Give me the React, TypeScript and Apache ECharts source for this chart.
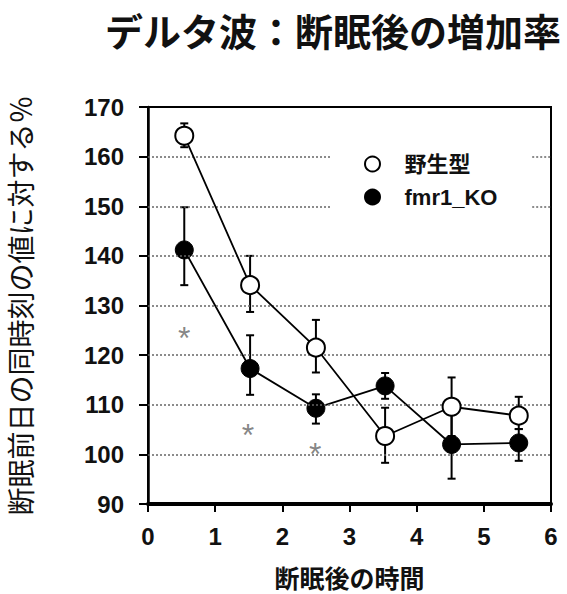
import React, { useEffect, useRef } from "react";
import * as echarts from "echarts";

const xHours = [0.54, 1.52, 2.5, 3.53, 4.52, 5.52];
const wildMean = [164.2, 134.1, 121.5, 103.7, 109.6, 107.8];
const wildHigh = [166.7, 140.0, 127.1, 109.4, 115.5, 111.6];
const wildLow = [161.9, 128.7, 116.5, 98.3, 103.7, 105.1];
const koMean = [141.2, 117.3, 109.3, 113.8, 102.0, 102.3];
const koHigh = [149.8, 124.0, 112.1, 116.4, 109.0, 105.1];
const koLow = [134.1, 112.0, 106.2, 111.2, 95.1, 98.7];
const starX = [0.54, 1.49, 2.49];
const starY = [124.7, 105.1, 101.3];
const fullGridValues = [100, 110, 120, 130, 140];
const partialGridValues = [150, 160];
const partialGridSpans = [[0, 2.72], [5.72, 6]];
const seriesNames = ["野生型", "fmr1_KO"];

const LATIN = "'Liberation Sans', Arial, sans-serif";
const CJK = "'Noto Sans CJK JP', sans-serif";

export default function App() {
  const ref = useRef<HTMLDivElement>(null);
  useEffect(() => {
    document.body.style.margin = "0";
    if (!ref.current) return;
    const chart = echarts.init(ref.current, null, { renderer: "svg" });

    const errRender = (params: any, api: any) => {
      const x = api.value(0);
      const hi = api.coord([x, api.value(2)]);
      const lo = api.coord([x, api.value(1)]);
      const cap = 4;
      const st = { stroke: "#000", lineWidth: 2 };
      return {
        type: "group",
        children: [
          { type: "line", shape: { x1: hi[0], y1: hi[1], x2: lo[0], y2: lo[1] }, style: st },
          { type: "line", shape: { x1: hi[0] - cap, y1: hi[1], x2: hi[0] + cap, y2: hi[1] }, style: st },
          { type: "line", shape: { x1: lo[0] - cap, y1: lo[1], x2: lo[0] + cap, y2: lo[1] }, style: st },
        ],
      };
    };

    const gridLines: any[] = [];
    fullGridValues.forEach((v) => gridLines.push([{ coord: [0, v] }, { coord: [6, v] }]));
    partialGridValues.forEach((v) =>
      partialGridSpans.forEach((s) => gridLines.push([{ coord: [s[0], v] }, { coord: [s[1], v] }]))
    );

    chart.setOption({
      animation: false,
      title: {
        text: "デルタ波：断眠後の増加率",
        left: 100,
        top: 5,
        textStyle: { fontFamily: CJK, fontSize: 38, fontWeight: "bold", color: "#111" },
      },
      legend: {
        orient: "vertical",
        left: 359,
        top: 147,
        itemWidth: 54,
        itemHeight: 15,
        itemGap: 9,
        icon: "circle",
        data: seriesNames,
        textStyle: { fontFamily: LATIN + "," + CJK, fontSize: 22, fontWeight: "bold", color: "#111", lineHeight: 24 },
      },
      grid: {
        left: 148,
        right: 16,
        top: 107,
        bottom: 90,
        outerBoundsMode: "none",
        containLabel: false,
        show: true,
        borderColor: "#000",
        borderWidth: 2,
        backgroundColor: "transparent",
      },
      xAxis: {
        type: "value",
        min: 0,
        max: 6,
        interval: 1,
        name: "断眠後の時間",
        nameLocation: "middle",
        nameGap: 60,
        nameTextStyle: { fontFamily: CJK, fontSize: 25, lineHeight: 25, fontWeight: "bold", color: "#111" },
        axisLine: { lineStyle: { color: "#000", width: 4 } },
        axisTick: { length: 8, lineStyle: { color: "#000", width: 2 } },
        axisLabel: { margin: 20, fontFamily: LATIN, fontSize: 24, fontWeight: "bold", color: "#111" },
        splitLine: { show: false },
      },
      yAxis: {
        type: "value",
        min: 90,
        max: 170,
        interval: 10,
        name: "断眠前日の同時刻の値に対する％",
        nameLocation: "middle",
        nameRotate: 90,
        nameGap: 114,
        nameTextStyle: { fontFamily: CJK, fontSize: 28, fontWeight: "normal", color: "#111" },
        axisLine: { lineStyle: { color: "#000", width: 2.5 } },
        axisTick: { length: 9, lineStyle: { color: "#000", width: 2 } },
        axisLabel: { margin: 24, fontFamily: LATIN, fontSize: 24, fontWeight: "bold", color: "#111" },
        splitLine: { show: false },
      },
      series: [
        {
          name: "grid",
          type: "line",
          data: [],
          silent: true,
          markLine: {
            silent: true,
            symbol: "none",
            label: { show: false },
            lineStyle: { color: "#666", width: 1.5, type: [2, 2] },
            data: gridLines,
          },
        },
        {
          name: "wildErr",
          type: "custom",
          renderItem: errRender,
          data: xHours.map((x, i) => [x, wildLow[i], wildHigh[i]]),
          z: 3,
          silent: true,
        },
        {
          name: "koErr",
          type: "custom",
          renderItem: errRender,
          data: xHours.map((x, i) => [x, koLow[i], koHigh[i]]),
          z: 3,
          silent: true,
        },
        {
          name: seriesNames[0],
          type: "line",
          data: xHours.map((x, i) => [x, wildMean[i]]),
          symbol: "circle",
          symbolSize: 18,
          lineStyle: { color: "#000", width: 1.8 },
          itemStyle: { color: "#fff", borderColor: "#000", borderWidth: 2 },
          z: 5,
        },
        {
          name: seriesNames[1],
          type: "line",
          data: xHours.map((x, i) => [x, koMean[i]]),
          symbol: "circle",
          symbolSize: 18,
          lineStyle: { color: "#000", width: 1.8 },
          itemStyle: { color: "#000", borderColor: "#000", borderWidth: 1 },
          z: 4,
        },
        {
          name: "stars",
          type: "scatter",
          data: starX.map((x, i) => [x, starY[i]]),
          symbolSize: 0,
          silent: true,
          label: {
            show: true,
            position: "inside",
            formatter: "*",
            fontFamily: LATIN,
            fontSize: 32,
            color: "#666",
            offset: [0, 6],
          },
        },
      ],
    });
    return () => chart.dispose();
  }, []);
  return <div ref={ref} style={{ width: 567, height: 594 }} />;
}
